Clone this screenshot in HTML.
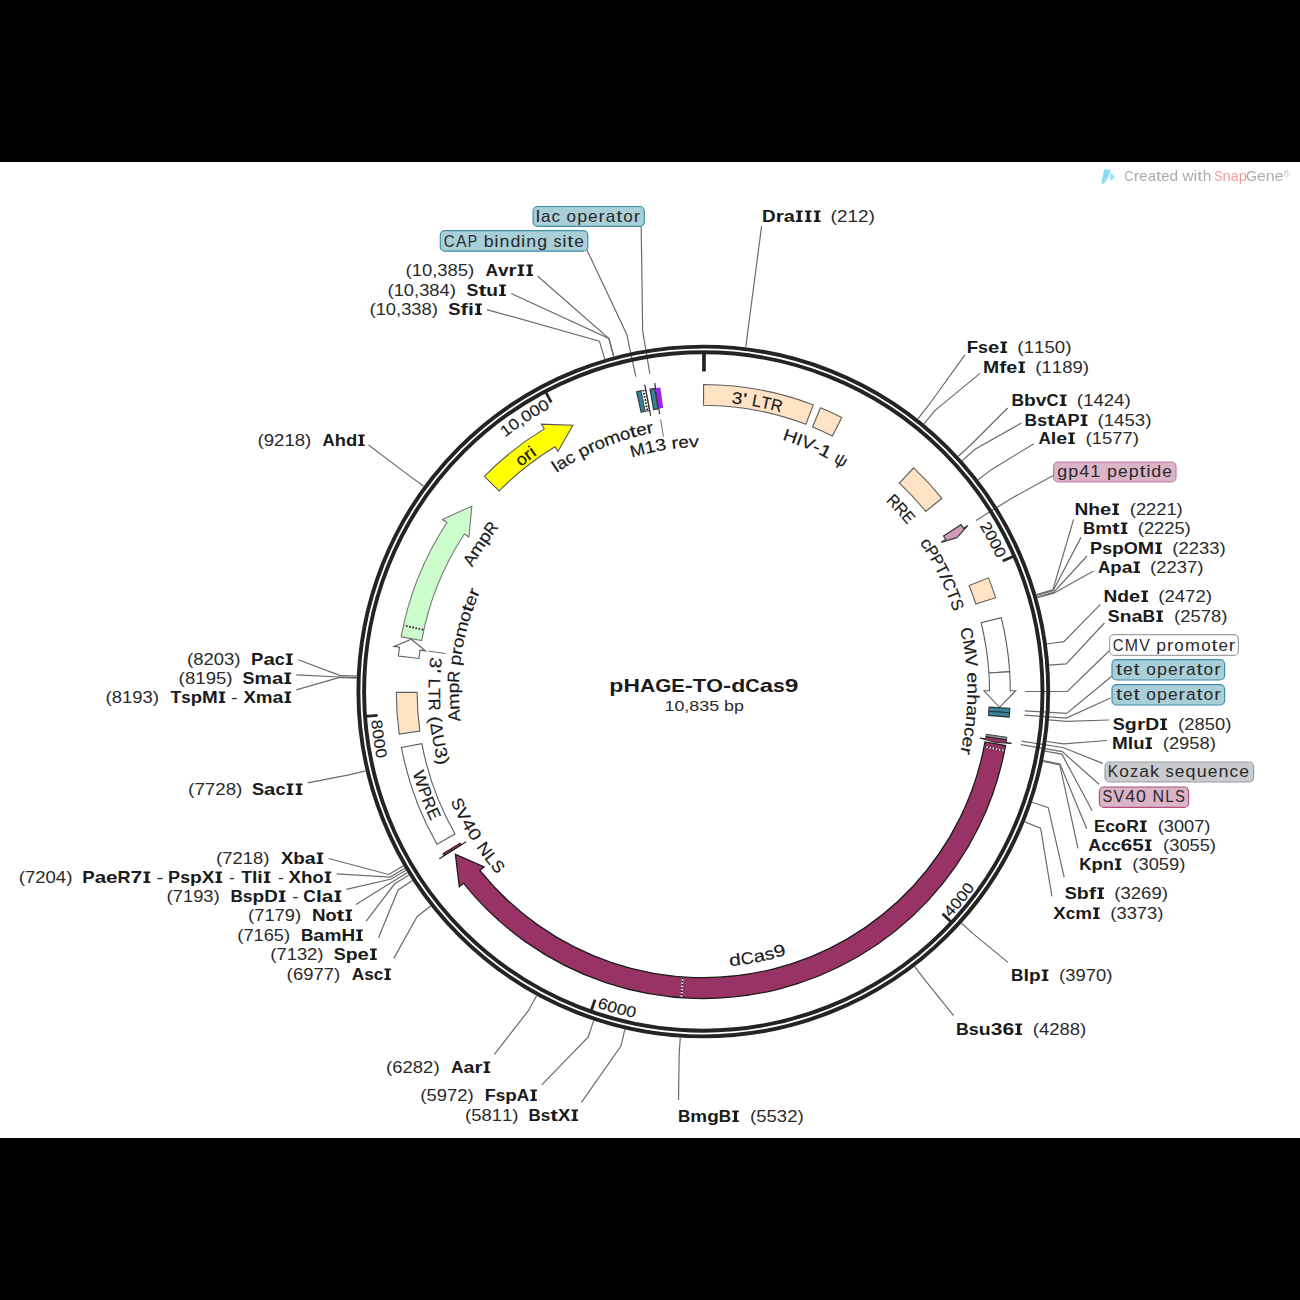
<!DOCTYPE html><html><head><meta charset="utf-8"><style>html,body{margin:0;padding:0;background:#fff;}svg{display:block;}</style></head><body><svg width="1300" height="1300" viewBox="0 0 1300 1300" style="font-family:'Liberation Sans',sans-serif;font-kerning:none">
<rect x="0" y="0" width="1300" height="1300" fill="#fff"/>
<rect x="0" y="0" width="1300" height="162" fill="#000"/>
<rect x="0" y="1138" width="1300" height="162" fill="#000"/>
<polyline points="745.84,347.22 747.94,330.25 761.6,226.2" fill="none" stroke="#6b6b6b" stroke-width="1.2"/>
<g font-size="16" font-weight="bold" fill="#1a1a1a"><text transform="translate(768.81,222.1) scale(1.180,1)" x="-5.78">D</text><text transform="translate(779.67,222.1) scale(1.301,1)" x="-3.11">r</text><text transform="translate(789.26,222.1) scale(1.245,1)" x="-4.45">a</text><path d="M795.95,210.48 h6.65 v1.68 h-1.77 v8.16 h1.77 v1.68 h-6.65 v-1.68 h1.77 v-8.16 h-1.77 Z"/><path d="M804.9,210.48 h6.65 v1.68 h-1.77 v8.16 h1.77 v1.68 h-6.65 v-1.68 h1.77 v-8.16 h-1.77 Z"/><path d="M813.85,210.48 h6.65 v1.68 h-1.77 v8.16 h1.77 v1.68 h-6.65 v-1.68 h1.77 v-8.16 h-1.77 Z"/></g>
<g font-size="16" fill="#2a2a2a"><text transform="translate(833.8,222.1) scale(1.207,1)" x="-2.66">(</text><text transform="translate(842.26,222.1) scale(1.179,1)" x="-4.45">2</text><text transform="translate(852.75,222.1) scale(1.179,1)" x="-4.45">1</text><text transform="translate(863.24,222.1) scale(1.179,1)" x="-4.45">2</text><text transform="translate(871.7,222.1) scale(1.207,1)" x="-2.66">)</text></g>
<polyline points="917.87,418.92 928.45,405.49 964.9,354.9" fill="none" stroke="#6b6b6b" stroke-width="1.2"/>
<g font-size="16" font-weight="bold" fill="#1a1a1a"><text transform="translate(972.44,353.4) scale(1.159,1)" x="-4.89">F</text><text transform="translate(983.04,353.4) scale(1.109,1)" x="-4.45">s</text><text transform="translate(993.6,353.4) scale(1.264,1)" x="-4.45">e</text><path d="M1000.38,341.48 h6.72 v1.68 h-1.78 v8.16 h1.78 v1.68 h-6.72 v-1.68 h1.78 v-8.16 h-1.78 Z"/></g>
<g font-size="16" fill="#2a2a2a"><text transform="translate(1020.48,353.4) scale(1.196,1)" x="-2.66">(</text><text transform="translate(1028.86,353.4) scale(1.168,1)" x="-4.45">1</text><text transform="translate(1039.25,353.4) scale(1.168,1)" x="-4.45">1</text><text transform="translate(1049.65,353.4) scale(1.168,1)" x="-4.45">5</text><text transform="translate(1060.04,353.4) scale(1.168,1)" x="-4.45">0</text><text transform="translate(1068.42,353.4) scale(1.196,1)" x="-2.66">)</text></g>
<polyline points="923.98,423.84 934.86,410.65 980,373.4" fill="none" stroke="#6b6b6b" stroke-width="1.2"/>
<g font-size="16" font-weight="bold" fill="#1a1a1a"><text transform="translate(991.18,372.8) scale(1.211,1)" x="-6.66">M</text><text transform="translate(1002.77,372.8) scale(1.324,1)" x="-2.66">f</text><text transform="translate(1011.8,372.8) scale(1.236,1)" x="-4.45">e</text><path d="M1018.43,361.48 h6.57 v1.68 h-1.74 v8.16 h1.74 v1.68 h-6.57 v-1.68 h1.74 v-8.16 h-1.74 Z"/></g>
<g font-size="16" fill="#2a2a2a"><text transform="translate(1038.37,372.8) scale(1.187,1)" x="-2.66">(</text><text transform="translate(1046.68,372.8) scale(1.159,1)" x="-4.45">1</text><text transform="translate(1056.99,372.8) scale(1.159,1)" x="-4.45">1</text><text transform="translate(1067.31,372.8) scale(1.159,1)" x="-4.45">8</text><text transform="translate(1077.62,372.8) scale(1.159,1)" x="-4.45">9</text><text transform="translate(1085.93,372.8) scale(1.187,1)" x="-2.66">)</text></g>
<polyline points="958.3,456.31 970.87,444.71 1007.7,408" fill="none" stroke="#6b6b6b" stroke-width="1.2"/>
<g font-size="16" font-weight="bold" fill="#1a1a1a"><text transform="translate(1017.77,406.1) scale(1.087,1)" x="-5.78">B</text><text transform="translate(1029.94,406.1) scale(1.207,1)" x="-4.89">b</text><text transform="translate(1041.21,406.1) scale(1.207,1)" x="-4.45">v</text><text transform="translate(1052.63,406.1) scale(1.047,1)" x="-5.78">C</text><path d="M1059.83,394.48 h6.67 v1.68 h-1.77 v8.16 h1.77 v1.68 h-6.67 v-1.68 h1.77 v-8.16 h-1.77 Z"/></g>
<g font-size="16" fill="#2a2a2a"><text transform="translate(1079.97,406.1) scale(1.187,1)" x="-2.66">(</text><text transform="translate(1088.28,406.1) scale(1.159,1)" x="-4.45">1</text><text transform="translate(1098.59,406.1) scale(1.159,1)" x="-4.45">4</text><text transform="translate(1108.91,406.1) scale(1.159,1)" x="-4.45">2</text><text transform="translate(1119.22,406.1) scale(1.159,1)" x="-4.45">4</text><text transform="translate(1127.53,406.1) scale(1.187,1)" x="-2.66">)</text></g>
<polyline points="962.22,460.63 974.98,449.25 1021.5,423" fill="none" stroke="#6b6b6b" stroke-width="1.2"/>
<g font-size="16" font-weight="bold" fill="#1a1a1a"><text transform="translate(1030.86,426) scale(1.085,1)" x="-5.78">B</text><text transform="translate(1042.03,426) scale(1.101,1)" x="-4.45">s</text><text transform="translate(1050.86,426) scale(1.476,1)" x="-2.66">t</text><text transform="translate(1061.16,426) scale(1.102,1)" x="-5.78">A</text><text transform="translate(1073.55,426) scale(1.130,1)" x="-5.34">P</text><path d="M1080.74,414.48 h6.66 v1.68 h-1.77 v8.16 h1.77 v1.68 h-6.66 v-1.68 h1.77 v-8.16 h-1.77 Z"/></g>
<g font-size="16" fill="#2a2a2a"><text transform="translate(1100.58,426) scale(1.191,1)" x="-2.66">(</text><text transform="translate(1108.92,426) scale(1.163,1)" x="-4.45">1</text><text transform="translate(1119.27,426) scale(1.163,1)" x="-4.45">4</text><text transform="translate(1129.63,426) scale(1.163,1)" x="-4.45">5</text><text transform="translate(1139.98,426) scale(1.163,1)" x="-4.45">3</text><text transform="translate(1148.32,426) scale(1.191,1)" x="-2.66">)</text></g>
<polyline points="978.13,479.83 991.68,469.39 1033.8,443.8" fill="none" stroke="#6b6b6b" stroke-width="1.2"/>
<g font-size="16" font-weight="bold" fill="#1a1a1a"><text transform="translate(1044.62,443.9) scale(1.073,1)" x="-5.78">A</text><text transform="translate(1053.57,443.9) scale(1.236,1)" x="-2.22">l</text><text transform="translate(1061.75,443.9) scale(1.221,1)" x="-4.45">e</text><path d="M1068.31,432.48 h6.49 v1.68 h-1.72 v8.16 h1.72 v1.68 h-6.49 v-1.68 h1.72 v-8.16 h-1.72 Z"/></g>
<g font-size="16" fill="#2a2a2a"><text transform="translate(1088.56,443.9) scale(1.180,1)" x="-2.66">(</text><text transform="translate(1096.83,443.9) scale(1.152,1)" x="-4.45">1</text><text transform="translate(1107.08,443.9) scale(1.152,1)" x="-4.45">5</text><text transform="translate(1117.32,443.9) scale(1.152,1)" x="-4.45">7</text><text transform="translate(1127.57,443.9) scale(1.152,1)" x="-4.45">7</text><text transform="translate(1135.84,443.9) scale(1.180,1)" x="-2.66">)</text></g>
<polyline points="1036.42,594.68 1052.84,589.91 1073.6,519.4" fill="none" stroke="#6b6b6b" stroke-width="1.2"/>
<g font-size="16" font-weight="bold" fill="#1a1a1a"><text transform="translate(1081.38,515.3) scale(1.193,1)" x="-5.78">N</text><text transform="translate(1094.14,515.3) scale(1.200,1)" x="-4.89">h</text><text transform="translate(1105.59,515.3) scale(1.256,1)" x="-4.45">e</text><path d="M1112.33,503.48 h6.67 v1.68 h-1.77 v8.16 h1.77 v1.68 h-6.67 v-1.68 h1.77 v-8.16 h-1.77 Z"/></g>
<g font-size="16" fill="#2a2a2a"><text transform="translate(1132.74,515.3) scale(1.170,1)" x="-2.66">(</text><text transform="translate(1140.95,515.3) scale(1.143,1)" x="-4.45">2</text><text transform="translate(1151.12,515.3) scale(1.143,1)" x="-4.45">2</text><text transform="translate(1161.28,515.3) scale(1.143,1)" x="-4.45">2</text><text transform="translate(1171.45,515.3) scale(1.143,1)" x="-4.45">1</text><text transform="translate(1179.66,515.3) scale(1.170,1)" x="-2.66">)</text></g>
<polyline points="1036.64,595.46 1053.07,590.72 1081,537.4" fill="none" stroke="#6b6b6b" stroke-width="1.2"/>
<g font-size="16" font-weight="bold" fill="#1a1a1a"><text transform="translate(1089.07,533.9) scale(1.064,1)" x="-5.78">B</text><text transform="translate(1103.62,533.9) scale(1.182,1)" x="-7.11">m</text><text transform="translate(1115.88,533.9) scale(1.447,1)" x="-2.66">t</text><path d="M1120.87,522.48 h6.53 v1.68 h-1.73 v8.16 h1.73 v1.68 h-6.53 v-1.68 h1.73 v-8.16 h-1.73 Z"/></g>
<g font-size="16" fill="#2a2a2a"><text transform="translate(1140.74,533.9) scale(1.170,1)" x="-2.66">(</text><text transform="translate(1148.95,533.9) scale(1.143,1)" x="-4.45">2</text><text transform="translate(1159.12,533.9) scale(1.143,1)" x="-4.45">2</text><text transform="translate(1169.28,533.9) scale(1.143,1)" x="-4.45">2</text><text transform="translate(1179.45,533.9) scale(1.143,1)" x="-4.45">5</text><text transform="translate(1187.66,533.9) scale(1.170,1)" x="-2.66">)</text></g>
<polyline points="1037.08,597 1053.54,592.35 1087,556" fill="none" stroke="#6b6b6b" stroke-width="1.2"/>
<g font-size="16" font-weight="bold" fill="#1a1a1a"><text transform="translate(1096.13,553.9) scale(1.132,1)" x="-5.34">P</text><text transform="translate(1107.07,553.9) scale(1.102,1)" x="-4.45">s</text><text transform="translate(1117.87,553.9) scale(1.207,1)" x="-4.89">p</text><text transform="translate(1130.77,553.9) scale(1.126,1)" x="-6.22">O</text><text transform="translate(1145.97,553.9) scale(1.230,1)" x="-6.66">M</text><path d="M1155.33,542.48 h6.67 v1.68 h-1.77 v8.16 h1.77 v1.68 h-6.67 v-1.68 h1.77 v-8.16 h-1.77 Z"/></g>
<g font-size="16" fill="#2a2a2a"><text transform="translate(1175.36,553.9) scale(1.180,1)" x="-2.66">(</text><text transform="translate(1183.63,553.9) scale(1.152,1)" x="-4.45">2</text><text transform="translate(1193.88,553.9) scale(1.152,1)" x="-4.45">2</text><text transform="translate(1204.12,553.9) scale(1.152,1)" x="-4.45">3</text><text transform="translate(1214.37,553.9) scale(1.152,1)" x="-4.45">3</text><text transform="translate(1222.64,553.9) scale(1.180,1)" x="-2.66">)</text></g>
<polyline points="1037.3,597.78 1053.76,593.16 1093.6,571" fill="none" stroke="#6b6b6b" stroke-width="1.2"/>
<g font-size="16" font-weight="bold" fill="#1a1a1a"><text transform="translate(1104.09,572.9) scale(1.068,1)" x="-5.78">A</text><text transform="translate(1115.97,572.9) scale(1.168,1)" x="-4.89">p</text><text transform="translate(1127.05,572.9) scale(1.209,1)" x="-4.45">a</text><path d="M1133.54,561.48 h6.46 v1.68 h-1.71 v8.16 h1.71 v1.68 h-6.46 v-1.68 h1.71 v-8.16 h-1.71 Z"/></g>
<g font-size="16" fill="#2a2a2a"><text transform="translate(1153.15,572.9) scale(1.175,1)" x="-2.66">(</text><text transform="translate(1161.39,572.9) scale(1.147,1)" x="-4.45">2</text><text transform="translate(1171.6,572.9) scale(1.147,1)" x="-4.45">2</text><text transform="translate(1181.8,572.9) scale(1.147,1)" x="-4.45">3</text><text transform="translate(1192.01,572.9) scale(1.147,1)" x="-4.45">7</text><text transform="translate(1200.25,572.9) scale(1.175,1)" x="-2.66">)</text></g>
<polyline points="1046.94,644.02 1063.87,641.68 1100.4,604.4" fill="none" stroke="#6b6b6b" stroke-width="1.2"/>
<g font-size="16" font-weight="bold" fill="#1a1a1a"><text transform="translate(1110.37,601.9) scale(1.191,1)" x="-5.78">N</text><text transform="translate(1123.14,601.9) scale(1.205,1)" x="-4.89">d</text><text transform="translate(1134.61,601.9) scale(1.254,1)" x="-4.45">e</text><path d="M1141.34,590.48 h6.66 v1.68 h-1.77 v8.16 h1.77 v1.68 h-6.66 v-1.68 h1.77 v-8.16 h-1.77 Z"/></g>
<g font-size="16" fill="#2a2a2a"><text transform="translate(1161.37,601.9) scale(1.184,1)" x="-2.66">(</text><text transform="translate(1169.66,601.9) scale(1.156,1)" x="-4.45">2</text><text transform="translate(1179.95,601.9) scale(1.156,1)" x="-4.45">4</text><text transform="translate(1190.25,601.9) scale(1.156,1)" x="-4.45">7</text><text transform="translate(1200.54,601.9) scale(1.156,1)" x="-4.45">2</text><text transform="translate(1208.83,601.9) scale(1.184,1)" x="-2.66">)</text></g>
<polyline points="1049.2,665.22 1066.25,663.93 1104.4,623" fill="none" stroke="#6b6b6b" stroke-width="1.2"/>
<g font-size="16" font-weight="bold" fill="#1a1a1a"><text transform="translate(1113.76,621.5) scale(1.114,1)" x="-5.34">S</text><text transform="translate(1125.57,621.5) scale(1.202,1)" x="-4.89">n</text><text transform="translate(1137.02,621.5) scale(1.251,1)" x="-4.45">a</text><text transform="translate(1148.87,621.5) scale(1.089,1)" x="-5.78">B</text><path d="M1156.32,610.48 h6.68 v1.68 h-1.77 v8.16 h1.77 v1.68 h-6.68 v-1.68 h1.77 v-8.16 h-1.77 Z"/></g>
<g font-size="16" fill="#2a2a2a"><text transform="translate(1177.15,621.5) scale(1.175,1)" x="-2.66">(</text><text transform="translate(1185.39,621.5) scale(1.147,1)" x="-4.45">2</text><text transform="translate(1195.6,621.5) scale(1.147,1)" x="-4.45">5</text><text transform="translate(1205.8,621.5) scale(1.147,1)" x="-4.45">7</text><text transform="translate(1216.01,621.5) scale(1.147,1)" x="-4.45">8</text><text transform="translate(1224.25,621.5) scale(1.175,1)" x="-2.66">)</text></g>
<polyline points="1049.04,719.88 1066.08,721.28 1109,720" fill="none" stroke="#6b6b6b" stroke-width="1.2"/>
<g font-size="16" font-weight="bold" fill="#1a1a1a"><text transform="translate(1118.83,729.5) scale(1.131,1)" x="-5.34">S</text><text transform="translate(1130.87,729.5) scale(1.227,1)" x="-4.89">g</text><text transform="translate(1141,729.5) scale(1.327,1)" x="-3.11">r</text><text transform="translate(1152.08,729.5) scale(1.204,1)" x="-5.78">D</text><path d="M1160.21,718.48 h6.79 v1.68 h-1.8 v8.16 h1.8 v1.68 h-6.79 v-1.68 h1.8 v-8.16 h-1.8 Z"/></g>
<g font-size="16" fill="#2a2a2a"><text transform="translate(1181.15,729.5) scale(1.175,1)" x="-2.66">(</text><text transform="translate(1189.39,729.5) scale(1.147,1)" x="-4.45">2</text><text transform="translate(1199.6,729.5) scale(1.147,1)" x="-4.45">8</text><text transform="translate(1209.8,729.5) scale(1.147,1)" x="-4.45">5</text><text transform="translate(1220.01,729.5) scale(1.147,1)" x="-4.45">0</text><text transform="translate(1228.25,729.5) scale(1.175,1)" x="-2.66">)</text></g>
<polyline points="1046.58,741.47 1063.5,743.93 1107,740.5" fill="none" stroke="#6b6b6b" stroke-width="1.2"/>
<g font-size="16" font-weight="bold" fill="#1a1a1a"><text transform="translate(1119.84,748.5) scale(1.185,1)" x="-6.66">M</text><text transform="translate(1130.45,748.5) scale(1.223,1)" x="-2.22">l</text><text transform="translate(1138.82,748.5) scale(1.156,1)" x="-4.89">u</text><path d="M1145.57,737.48 h6.43 v1.68 h-1.71 v8.16 h1.71 v1.68 h-6.43 v-1.68 h1.71 v-8.16 h-1.71 Z"/></g>
<g font-size="16" fill="#2a2a2a"><text transform="translate(1165.75,748.5) scale(1.175,1)" x="-2.66">(</text><text transform="translate(1173.99,748.5) scale(1.147,1)" x="-4.45">2</text><text transform="translate(1184.2,748.5) scale(1.147,1)" x="-4.45">9</text><text transform="translate(1194.4,748.5) scale(1.147,1)" x="-4.45">5</text><text transform="translate(1204.61,748.5) scale(1.147,1)" x="-4.45">8</text><text transform="translate(1212.85,748.5) scale(1.175,1)" x="-2.66">)</text></g>
<polyline points="1045.02,751.2 1061.87,754.14 1092.2,810.8" fill="none" stroke="#6b6b6b" stroke-width="1.2"/>
<g font-size="16" font-weight="bold" fill="#1a1a1a"><text transform="translate(1099.5,831.5) scale(1.052,1)" x="-5.34">E</text><text transform="translate(1109.99,831.5) scale(1.095,1)" x="-4.45">c</text><text transform="translate(1120.5,831.5) scale(1.155,1)" x="-4.89">o</text><text transform="translate(1132.47,831.5) scale(1.095,1)" x="-5.78">R</text><path d="M1139.95,820.48 h6.65 v1.68 h-1.77 v8.16 h1.77 v1.68 h-6.65 v-1.68 h1.77 v-8.16 h-1.77 Z"/></g>
<g font-size="16" fill="#2a2a2a"><text transform="translate(1160.74,831.5) scale(1.166,1)" x="-2.66">(</text><text transform="translate(1168.91,831.5) scale(1.138,1)" x="-4.45">3</text><text transform="translate(1179.04,831.5) scale(1.138,1)" x="-4.45">0</text><text transform="translate(1189.16,831.5) scale(1.138,1)" x="-4.45">0</text><text transform="translate(1199.29,831.5) scale(1.138,1)" x="-4.45">7</text><text transform="translate(1207.46,831.5) scale(1.166,1)" x="-2.66">)</text></g>
<polyline points="1043.23,760.69 1059.99,764.1 1086.7,828.7" fill="none" stroke="#6b6b6b" stroke-width="1.2"/>
<g font-size="16" font-weight="bold" fill="#1a1a1a"><text transform="translate(1094.72,851.3) scale(1.108,1)" x="-5.78">A</text><text transform="translate(1106.02,851.3) scale(1.102,1)" x="-4.45">c</text><text transform="translate(1115.83,851.3) scale(1.102,1)" x="-4.45">c</text><text transform="translate(1126.48,851.3) scale(1.293,1)" x="-4.45">6</text><text transform="translate(1137.99,851.3) scale(1.293,1)" x="-4.45">5</text><path d="M1144.9,839.48 h6.7 v1.68 h-1.78 v8.16 h1.78 v1.68 h-6.7 v-1.68 h1.78 v-8.16 h-1.78 Z"/></g>
<g font-size="16" fill="#2a2a2a"><text transform="translate(1166.14,851.3) scale(1.166,1)" x="-2.66">(</text><text transform="translate(1174.31,851.3) scale(1.138,1)" x="-4.45">3</text><text transform="translate(1184.44,851.3) scale(1.138,1)" x="-4.45">0</text><text transform="translate(1194.56,851.3) scale(1.138,1)" x="-4.45">5</text><text transform="translate(1204.69,851.3) scale(1.138,1)" x="-4.45">5</text><text transform="translate(1212.86,851.3) scale(1.166,1)" x="-2.66">)</text></g>
<polyline points="1043.07,761.48 1059.82,764.92 1078,848.4" fill="none" stroke="#6b6b6b" stroke-width="1.2"/>
<g font-size="16" font-weight="bold" fill="#1a1a1a"><text transform="translate(1085.26,870.3) scale(1.058,1)" x="-5.78">K</text><text transform="translate(1097.03,870.3) scale(1.156,1)" x="-4.89">p</text><text transform="translate(1108.29,870.3) scale(1.149,1)" x="-4.89">n</text><path d="M1115.01,858.48 h6.39 v1.68 h-1.7 v8.16 h1.7 v1.68 h-6.39 v-1.68 h1.7 v-8.16 h-1.7 Z"/></g>
<g font-size="16" fill="#2a2a2a"><text transform="translate(1135.34,870.3) scale(1.170,1)" x="-2.66">(</text><text transform="translate(1143.55,870.3) scale(1.143,1)" x="-4.45">3</text><text transform="translate(1153.72,870.3) scale(1.143,1)" x="-4.45">0</text><text transform="translate(1163.88,870.3) scale(1.143,1)" x="-4.45">5</text><text transform="translate(1174.05,870.3) scale(1.143,1)" x="-4.45">9</text><text transform="translate(1182.26,870.3) scale(1.170,1)" x="-2.66">)</text></g>
<polyline points="1032.05,802.23 1048.26,807.69 1064.2,877.3" fill="none" stroke="#6b6b6b" stroke-width="1.2"/>
<g font-size="16" font-weight="bold" fill="#1a1a1a"><text transform="translate(1070.82,898.9) scale(1.128,1)" x="-5.34">S</text><text transform="translate(1082.81,898.9) scale(1.224,1)" x="-4.89">b</text><text transform="translate(1092.43,898.9) scale(1.364,1)" x="-2.66">f</text><path d="M1097.23,887.48 h6.77 v1.68 h-1.8 v8.16 h1.8 v1.68 h-6.77 v-1.68 h1.8 v-8.16 h-1.8 Z"/></g>
<g font-size="16" fill="#2a2a2a"><text transform="translate(1117.37,898.9) scale(1.184,1)" x="-2.66">(</text><text transform="translate(1125.66,898.9) scale(1.156,1)" x="-4.45">3</text><text transform="translate(1135.95,898.9) scale(1.156,1)" x="-4.45">2</text><text transform="translate(1146.25,898.9) scale(1.156,1)" x="-4.45">6</text><text transform="translate(1156.54,898.9) scale(1.156,1)" x="-4.45">9</text><text transform="translate(1164.83,898.9) scale(1.184,1)" x="-2.66">)</text></g>
<polyline points="1024.78,821.84 1040.63,828.27 1051.9,896.4" fill="none" stroke="#6b6b6b" stroke-width="1.2"/>
<g font-size="16" font-weight="bold" fill="#1a1a1a"><text transform="translate(1059.49,918.5) scale(1.161,1)" x="-5.34">X</text><text transform="translate(1070.45,918.5) scale(1.071,1)" x="-4.45">c</text><text transform="translate(1083.59,918.5) scale(1.177,1)" x="-7.11">m</text><path d="M1093.09,907.48 h6.51 v1.68 h-1.73 v8.16 h1.73 v1.68 h-6.51 v-1.68 h1.73 v-8.16 h-1.73 Z"/></g>
<g font-size="16" fill="#2a2a2a"><text transform="translate(1113.34,918.5) scale(1.170,1)" x="-2.66">(</text><text transform="translate(1121.55,918.5) scale(1.143,1)" x="-4.45">3</text><text transform="translate(1131.72,918.5) scale(1.143,1)" x="-4.45">3</text><text transform="translate(1141.88,918.5) scale(1.143,1)" x="-4.45">7</text><text transform="translate(1152.05,918.5) scale(1.143,1)" x="-4.45">3</text><text transform="translate(1160.26,918.5) scale(1.170,1)" x="-2.66">)</text></g>
<polyline points="961.48,923.2 974.2,934.62 1008,962.4" fill="none" stroke="#6b6b6b" stroke-width="1.2"/>
<g font-size="16" font-weight="bold" fill="#1a1a1a"><text transform="translate(1017.3,980.9) scale(1.071,1)" x="-5.78">B</text><text transform="translate(1026.27,980.9) scale(1.252,1)" x="-2.22">l</text><text transform="translate(1034.87,980.9) scale(1.190,1)" x="-4.89">p</text><path d="M1041.82,969.48 h6.58 v1.68 h-1.75 v8.16 h1.75 v1.68 h-6.58 v-1.68 h1.75 v-8.16 h-1.75 Z"/></g>
<g font-size="16" fill="#2a2a2a"><text transform="translate(1062.15,980.9) scale(1.175,1)" x="-2.66">(</text><text transform="translate(1070.39,980.9) scale(1.147,1)" x="-4.45">3</text><text transform="translate(1080.6,980.9) scale(1.147,1)" x="-4.45">9</text><text transform="translate(1090.8,980.9) scale(1.147,1)" x="-4.45">7</text><text transform="translate(1101.01,980.9) scale(1.147,1)" x="-4.45">0</text><text transform="translate(1109.25,980.9) scale(1.175,1)" x="-2.66">)</text></g>
<polyline points="914.62,966.61 925.03,980.17 953.6,1015.6" fill="none" stroke="#6b6b6b" stroke-width="1.2"/>
<g font-size="16" font-weight="bold" fill="#1a1a1a"><text transform="translate(962.45,1034.9) scale(1.105,1)" x="-5.78">B</text><text transform="translate(973.82,1034.9) scale(1.121,1)" x="-4.45">s</text><text transform="translate(984.77,1034.9) scale(1.220,1)" x="-4.89">u</text><text transform="translate(996.56,1034.9) scale(1.310,1)" x="-4.45">3</text><text transform="translate(1008.21,1034.9) scale(1.310,1)" x="-4.45">6</text><path d="M1015.22,1023.48 h6.78 v1.68 h-1.8 v8.16 h1.8 v1.68 h-6.78 v-1.68 h1.8 v-8.16 h-1.8 Z"/></g>
<g font-size="16" fill="#2a2a2a"><text transform="translate(1035.77,1034.9) scale(1.184,1)" x="-2.66">(</text><text transform="translate(1044.06,1034.9) scale(1.156,1)" x="-4.45">4</text><text transform="translate(1054.35,1034.9) scale(1.156,1)" x="-4.45">2</text><text transform="translate(1064.65,1034.9) scale(1.156,1)" x="-4.45">8</text><text transform="translate(1074.94,1034.9) scale(1.156,1)" x="-4.45">8</text><text transform="translate(1083.23,1034.9) scale(1.184,1)" x="-2.66">)</text></g>
<polyline points="680.28,1037.64 679.15,1054.7 678.5,1100" fill="none" stroke="#6b6b6b" stroke-width="1.2"/>
<g font-size="16" font-weight="bold" fill="#1a1a1a"><text transform="translate(684.18,1122.2) scale(1.067,1)" x="-5.78">B</text><text transform="translate(698.77,1122.2) scale(1.185,1)" x="-7.11">m</text><text transform="translate(712.99,1122.2) scale(1.185,1)" x="-4.89">g</text><text transform="translate(724.95,1122.2) scale(1.067,1)" x="-5.78">B</text><path d="M732.25,1110.48 h6.55 v1.68 h-1.74 v8.16 h1.74 v1.68 h-6.55 v-1.68 h1.74 v-8.16 h-1.74 Z"/></g>
<g font-size="16" fill="#2a2a2a"><text transform="translate(753.07,1122.2) scale(1.187,1)" x="-2.66">(</text><text transform="translate(761.38,1122.2) scale(1.159,1)" x="-4.45">5</text><text transform="translate(771.69,1122.2) scale(1.159,1)" x="-4.45">5</text><text transform="translate(782.01,1122.2) scale(1.159,1)" x="-4.45">3</text><text transform="translate(792.32,1122.2) scale(1.159,1)" x="-4.45">2</text><text transform="translate(800.63,1122.2) scale(1.187,1)" x="-2.66">)</text></g>
<polyline points="613.8,356.34 609.03,338.47 537.7,276.2" fill="none" stroke="#6b6b6b" stroke-width="1.2"/>
<g font-size="16" fill="#2a2a2a"><text transform="translate(408.56,275.9) scale(1.180,1)" x="-2.66">(</text><text transform="translate(416.83,275.9) scale(1.152,1)" x="-4.45">1</text><text transform="translate(427.08,275.9) scale(1.152,1)" x="-4.45">0</text><text transform="translate(434.77,275.9) scale(1.152,1)" x="-2.22">,</text><text transform="translate(442.46,275.9) scale(1.152,1)" x="-4.45">3</text><text transform="translate(452.72,275.9) scale(1.152,1)" x="-4.45">8</text><text transform="translate(462.97,275.9) scale(1.152,1)" x="-4.45">5</text><text transform="translate(471.24,275.9) scale(1.180,1)" x="-2.66">)</text></g>
<g font-size="16" font-weight="bold" fill="#1a1a1a"><text transform="translate(491.77,275.9) scale(1.082,1)" x="-5.78">A</text><text transform="translate(503.29,275.9) scale(1.183,1)" x="-4.45">v</text><text transform="translate(512.54,275.9) scale(1.280,1)" x="-3.11">r</text><path d="M517.65,264.48 h6.54 v1.68 h-1.74 v8.16 h1.74 v1.68 h-6.54 v-1.68 h1.74 v-8.16 h-1.74 Z"/><path d="M526.46,264.48 h6.54 v1.68 h-1.74 v8.16 h1.74 v1.68 h-6.54 v-1.68 h1.74 v-8.16 h-1.74 Z"/></g>
<polyline points="613.6,356.4 608.82,338.53 511.2,293.5" fill="none" stroke="#6b6b6b" stroke-width="1.2"/>
<g font-size="16" fill="#2a2a2a"><text transform="translate(390.55,295.5) scale(1.173,1)" x="-2.66">(</text><text transform="translate(398.77,295.5) scale(1.145,1)" x="-4.45">1</text><text transform="translate(408.96,295.5) scale(1.145,1)" x="-4.45">0</text><text transform="translate(416.6,295.5) scale(1.146,1)" x="-2.22">,</text><text transform="translate(424.25,295.5) scale(1.145,1)" x="-4.45">3</text><text transform="translate(434.44,295.5) scale(1.145,1)" x="-4.45">8</text><text transform="translate(444.63,295.5) scale(1.145,1)" x="-4.45">4</text><text transform="translate(452.85,295.5) scale(1.173,1)" x="-2.66">)</text></g>
<g font-size="16" font-weight="bold" fill="#1a1a1a"><text transform="translate(472.55,295.5) scale(1.111,1)" x="-5.34">S</text><text transform="translate(482.42,295.5) scale(1.478,1)" x="-2.66">t</text><text transform="translate(492.21,295.5) scale(1.200,1)" x="-4.89">u</text><path d="M499.23,284.48 h6.67 v1.68 h-1.77 v8.16 h1.77 v1.68 h-6.67 v-1.68 h1.77 v-8.16 h-1.77 Z"/></g>
<polyline points="604.7,358.91 599.44,341.17 487,309.6" fill="none" stroke="#6b6b6b" stroke-width="1.2"/>
<g font-size="16" fill="#2a2a2a"><text transform="translate(372.55,314.7) scale(1.173,1)" x="-2.66">(</text><text transform="translate(380.77,314.7) scale(1.145,1)" x="-4.45">1</text><text transform="translate(390.96,314.7) scale(1.145,1)" x="-4.45">0</text><text transform="translate(398.6,314.7) scale(1.146,1)" x="-2.22">,</text><text transform="translate(406.25,314.7) scale(1.145,1)" x="-4.45">3</text><text transform="translate(416.44,314.7) scale(1.145,1)" x="-4.45">3</text><text transform="translate(426.63,314.7) scale(1.145,1)" x="-4.45">8</text><text transform="translate(434.85,314.7) scale(1.173,1)" x="-2.66">)</text></g>
<g font-size="16" font-weight="bold" fill="#1a1a1a"><text transform="translate(454.41,314.7) scale(1.150,1)" x="-5.34">S</text><text transform="translate(464.26,314.7) scale(1.391,1)" x="-2.66">f</text><text transform="translate(470.88,314.7) scale(1.314,1)" x="-2.22">i</text><path d="M475,303.48 h6.9 v1.68 h-1.83 v8.16 h1.83 v1.68 h-6.9 v-1.68 h1.83 v-8.16 h-1.83 Z"/></g>
<polyline points="423.63,486.26 409.84,476.14 368.5,444.9" fill="none" stroke="#6b6b6b" stroke-width="1.2"/>
<g font-size="16" fill="#2a2a2a"><text transform="translate(260.57,445.8) scale(1.189,1)" x="-2.66">(</text><text transform="translate(268.9,445.8) scale(1.161,1)" x="-4.45">9</text><text transform="translate(279.23,445.8) scale(1.161,1)" x="-4.45">2</text><text transform="translate(289.57,445.8) scale(1.161,1)" x="-4.45">1</text><text transform="translate(299.9,445.8) scale(1.161,1)" x="-4.45">8</text><text transform="translate(308.23,445.8) scale(1.189,1)" x="-2.66">)</text></g>
<g font-size="16" font-weight="bold" fill="#1a1a1a"><text transform="translate(328.61,445.8) scale(1.053,1)" x="-5.78">A</text><text transform="translate(340.28,445.8) scale(1.145,1)" x="-4.89">h</text><text transform="translate(351.51,445.8) scale(1.151,1)" x="-4.89">d</text><path d="M358.23,434.48 h6.37 v1.68 h-1.69 v8.16 h1.69 v1.68 h-6.37 v-1.68 h1.69 v-8.16 h-1.69 Z"/></g>
<polyline points="356.74,676.07 339.66,675.3 298.3,659.7" fill="none" stroke="#6b6b6b" stroke-width="1.2"/>
<g font-size="16" fill="#2a2a2a"><text transform="translate(190.06,664.8) scale(1.180,1)" x="-2.66">(</text><text transform="translate(198.33,664.8) scale(1.152,1)" x="-4.45">8</text><text transform="translate(208.58,664.8) scale(1.152,1)" x="-4.45">2</text><text transform="translate(218.82,664.8) scale(1.152,1)" x="-4.45">0</text><text transform="translate(229.07,664.8) scale(1.152,1)" x="-4.45">3</text><text transform="translate(237.34,664.8) scale(1.180,1)" x="-2.66">)</text></g>
<g font-size="16" font-weight="bold" fill="#1a1a1a"><text transform="translate(257.22,664.8) scale(1.155,1)" x="-5.34">P</text><text transform="translate(269.06,664.8) scale(1.276,1)" x="-4.45">a</text><text transform="translate(279.72,664.8) scale(1.121,1)" x="-4.45">c</text><path d="M285.89,653.48 h6.81 v1.68 h-1.81 v8.16 h1.81 v1.68 h-6.81 v-1.68 h1.81 v-8.16 h-1.81 Z"/></g>
<polyline points="356.68,677.67 339.59,676.99 296.3,674.9" fill="none" stroke="#6b6b6b" stroke-width="1.2"/>
<g font-size="16" fill="#2a2a2a"><text transform="translate(181.78,683.5) scale(1.191,1)" x="-2.66">(</text><text transform="translate(190.12,683.5) scale(1.163,1)" x="-4.45">8</text><text transform="translate(200.47,683.5) scale(1.163,1)" x="-4.45">1</text><text transform="translate(210.83,683.5) scale(1.163,1)" x="-4.45">9</text><text transform="translate(221.18,683.5) scale(1.163,1)" x="-4.45">5</text><text transform="translate(229.52,683.5) scale(1.191,1)" x="-2.66">)</text></g>
<g font-size="16" font-weight="bold" fill="#1a1a1a"><text transform="translate(248.51,683.5) scale(1.126,1)" x="-5.34">S</text><text transform="translate(263.22,683.5) scale(1.222,1)" x="-7.11">m</text><text transform="translate(277.54,683.5) scale(1.266,1)" x="-4.45">a</text><path d="M284.34,672.48 h6.76 v1.68 h-1.79 v8.16 h1.79 v1.68 h-6.76 v-1.68 h1.79 v-8.16 h-1.79 Z"/></g>
<polyline points="356.66,678.08 339.57,677.41 296.3,689.8" fill="none" stroke="#6b6b6b" stroke-width="1.2"/>
<g font-size="16" fill="#2a2a2a"><text transform="translate(108.66,702.8) scale(1.180,1)" x="-2.66">(</text><text transform="translate(116.93,702.8) scale(1.152,1)" x="-4.45">8</text><text transform="translate(127.18,702.8) scale(1.152,1)" x="-4.45">1</text><text transform="translate(137.42,702.8) scale(1.152,1)" x="-4.45">9</text><text transform="translate(147.67,702.8) scale(1.152,1)" x="-4.45">3</text><text transform="translate(155.94,702.8) scale(1.180,1)" x="-2.66">)</text></g>
<g font-size="16" font-weight="bold" fill="#1a1a1a"><text transform="translate(175.91,702.8) scale(1.102,1)" x="-4.89">T</text><text transform="translate(185.99,702.8) scale(1.056,1)" x="-4.45">s</text><text transform="translate(196.34,702.8) scale(1.156,1)" x="-4.89">p</text><text transform="translate(209.85,702.8) scale(1.179,1)" x="-6.66">M</text><path d="M218.81,691.48 h6.39 v1.68 h-1.7 v8.16 h1.7 v1.68 h-6.39 v-1.68 h1.7 v-8.16 h-1.7 Z"/></g>
<g font-size="16" fill="#2a2a2a"><text transform="translate(234.3,702.8) scale(1.235,1)" x="-2.66">-</text></g>
<g font-size="16" font-weight="bold" fill="#1a1a1a"><text transform="translate(249.6,702.8) scale(1.163,1)" x="-5.34">X</text><text transform="translate(264.2,702.8) scale(1.179,1)" x="-7.11">m</text><text transform="translate(278.02,702.8) scale(1.221,1)" x="-4.45">a</text><path d="M284.58,691.48 h6.52 v1.68 h-1.73 v8.16 h1.73 v1.68 h-6.52 v-1.68 h1.73 v-8.16 h-1.73 Z"/></g>
<polyline points="365.61,770.9 348.96,774.82 307.6,782.9" fill="none" stroke="#6b6b6b" stroke-width="1.2"/>
<g font-size="16" fill="#2a2a2a"><text transform="translate(191.19,794.5) scale(1.201,1)" x="-2.66">(</text><text transform="translate(199.6,794.5) scale(1.172,1)" x="-4.45">7</text><text transform="translate(210.03,794.5) scale(1.172,1)" x="-4.45">7</text><text transform="translate(220.47,794.5) scale(1.172,1)" x="-4.45">2</text><text transform="translate(230.9,794.5) scale(1.172,1)" x="-4.45">8</text><text transform="translate(239.31,794.5) scale(1.201,1)" x="-2.66">)</text></g>
<g font-size="16" font-weight="bold" fill="#1a1a1a"><text transform="translate(258.04,794.5) scale(1.133,1)" x="-5.34">S</text><text transform="translate(269.75,794.5) scale(1.273,1)" x="-4.45">a</text><text transform="translate(280.4,794.5) scale(1.119,1)" x="-4.45">c</text><path d="M286.55,783.48 h6.8 v1.68 h-1.81 v8.16 h1.81 v1.68 h-6.8 v-1.68 h1.81 v-8.16 h-1.81 Z"/><path d="M295.7,783.48 h6.8 v1.68 h-1.81 v8.16 h1.81 v1.68 h-6.8 v-1.68 h1.81 v-8.16 h-1.81 Z"/></g>
<polyline points="403.41,865.88 388.63,874.47 328.6,858.5" fill="none" stroke="#6b6b6b" stroke-width="1.2"/>
<g font-size="16" fill="#2a2a2a"><text transform="translate(219.15,863.7) scale(1.175,1)" x="-2.66">(</text><text transform="translate(227.39,863.7) scale(1.147,1)" x="-4.45">7</text><text transform="translate(237.6,863.7) scale(1.147,1)" x="-4.45">2</text><text transform="translate(247.8,863.7) scale(1.147,1)" x="-4.45">1</text><text transform="translate(258.01,863.7) scale(1.147,1)" x="-4.45">8</text><text transform="translate(266.25,863.7) scale(1.175,1)" x="-2.66">)</text></g>
<g font-size="16" font-weight="bold" fill="#1a1a1a"><text transform="translate(287.08,863.7) scale(1.159,1)" x="-5.34">X</text><text transform="translate(299.01,863.7) scale(1.175,1)" x="-4.89">b</text><text transform="translate(310.16,863.7) scale(1.217,1)" x="-4.45">a</text><path d="M316.7,852.48 h6.5 v1.68 h-1.72 v8.16 h1.72 v1.68 h-6.5 v-1.68 h1.72 v-8.16 h-1.72 Z"/></g>
<polyline points="404.84,868.31 390.13,877.02 336.7,873.8" fill="none" stroke="#6b6b6b" stroke-width="1.2"/>
<g font-size="16" fill="#2a2a2a"><text transform="translate(21.77,882.7) scale(1.187,1)" x="-2.66">(</text><text transform="translate(30.08,882.7) scale(1.159,1)" x="-4.45">7</text><text transform="translate(40.39,882.7) scale(1.159,1)" x="-4.45">2</text><text transform="translate(50.71,882.7) scale(1.159,1)" x="-4.45">0</text><text transform="translate(61.02,882.7) scale(1.159,1)" x="-4.45">4</text><text transform="translate(69.33,882.7) scale(1.187,1)" x="-2.66">)</text></g>
<g font-size="16" font-weight="bold" fill="#1a1a1a"><text transform="translate(88.44,882.7) scale(1.161,1)" x="-5.34">P</text><text transform="translate(100.34,882.7) scale(1.282,1)" x="-4.45">a</text><text transform="translate(111.77,882.7) scale(1.288,1)" x="-4.45">e</text><text transform="translate(124.01,882.7) scale(1.126,1)" x="-5.78">R</text><text transform="translate(136.39,882.7) scale(1.321,1)" x="-4.45">7</text><path d="M143.46,871.48 h6.84 v1.68 h-1.82 v8.16 h1.82 v1.68 h-6.84 v-1.68 h1.82 v-8.16 h-1.82 Z"/></g>
<g font-size="16" fill="#2a2a2a"><text transform="translate(159.95,882.7) scale(1.312,1)" x="-2.66">-</text></g>
<g font-size="16" font-weight="bold" fill="#1a1a1a"><text transform="translate(174.11,882.7) scale(1.127,1)" x="-5.34">P</text><text transform="translate(185.01,882.7) scale(1.098,1)" x="-4.45">s</text><text transform="translate(195.77,882.7) scale(1.202,1)" x="-4.89">p</text><text transform="translate(207.97,882.7) scale(1.186,1)" x="-5.34">X</text><path d="M215.45,871.48 h6.65 v1.68 h-1.76 v8.16 h1.76 v1.68 h-6.65 v-1.68 h1.76 v-8.16 h-1.76 Z"/></g>
<g font-size="16" fill="#2a2a2a"><text transform="translate(231.8,882.7) scale(1.081,1)" x="-2.66">-</text></g>
<g font-size="16" font-weight="bold" fill="#1a1a1a"><text transform="translate(246.52,882.7) scale(1.105,1)" x="-4.89">T</text><text transform="translate(254.64,882.7) scale(1.221,1)" x="-2.22">l</text><text transform="translate(260.06,882.7) scale(1.221,1)" x="-2.22">i</text><path d="M263.89,871.48 h6.41 v1.68 h-1.7 v8.16 h1.7 v1.68 h-6.41 v-1.68 h1.7 v-8.16 h-1.7 Z"/></g>
<g font-size="16" fill="#2a2a2a"><text transform="translate(280.9,882.7) scale(1.081,1)" x="-2.66">-</text></g>
<g font-size="16" font-weight="bold" fill="#1a1a1a"><text transform="translate(294.8,882.7) scale(1.164,1)" x="-5.34">X</text><text transform="translate(306.75,882.7) scale(1.173,1)" x="-4.89">h</text><text transform="translate(318.01,882.7) scale(1.132,1)" x="-4.89">o</text><path d="M324.68,871.48 h6.52 v1.68 h-1.73 v8.16 h1.73 v1.68 h-6.52 v-1.68 h1.73 v-8.16 h-1.73 Z"/></g>
<polyline points="405.97,870.21 391.32,879.02 346.4,889.3" fill="none" stroke="#6b6b6b" stroke-width="1.2"/>
<g font-size="16" fill="#2a2a2a"><text transform="translate(169.65,901.6) scale(1.173,1)" x="-2.66">(</text><text transform="translate(177.87,901.6) scale(1.145,1)" x="-4.45">7</text><text transform="translate(188.06,901.6) scale(1.145,1)" x="-4.45">1</text><text transform="translate(198.24,901.6) scale(1.145,1)" x="-4.45">9</text><text transform="translate(208.43,901.6) scale(1.145,1)" x="-4.45">3</text><text transform="translate(216.65,901.6) scale(1.173,1)" x="-2.66">)</text></g>
<g font-size="16" font-weight="bold" fill="#1a1a1a"><text transform="translate(236.62,901.6) scale(1.076,1)" x="-5.78">B</text><text transform="translate(247.69,901.6) scale(1.091,1)" x="-4.45">s</text><text transform="translate(258.38,901.6) scale(1.194,1)" x="-4.89">p</text><text transform="translate(270.98,901.6) scale(1.172,1)" x="-5.78">D</text><path d="M278.89,890.48 h6.61 v1.68 h-1.75 v8.16 h1.75 v1.68 h-6.61 v-1.68 h1.75 v-8.16 h-1.75 Z"/></g>
<g font-size="16" fill="#2a2a2a"><text transform="translate(295.45,901.6) scale(1.158,1)" x="-2.66">-</text></g>
<g font-size="16" font-weight="bold" fill="#1a1a1a"><text transform="translate(309.62,901.6) scale(1.085,1)" x="-5.78">C</text><text transform="translate(318.82,901.6) scale(1.318,1)" x="-2.22">l</text><text transform="translate(327.52,901.6) scale(1.296,1)" x="-4.45">a</text><path d="M334.48,890.48 h6.92 v1.68 h-1.84 v8.16 h1.84 v1.68 h-6.92 v-1.68 h1.84 v-8.16 h-1.84 Z"/></g>
<polyline points="407.43,872.62 392.85,881.54 356,904.6" fill="none" stroke="#6b6b6b" stroke-width="1.2"/>
<g font-size="16" fill="#2a2a2a"><text transform="translate(251.14,921.2) scale(1.170,1)" x="-2.66">(</text><text transform="translate(259.35,921.2) scale(1.143,1)" x="-4.45">7</text><text transform="translate(269.52,921.2) scale(1.143,1)" x="-4.45">1</text><text transform="translate(279.68,921.2) scale(1.143,1)" x="-4.45">7</text><text transform="translate(289.85,921.2) scale(1.143,1)" x="-4.45">9</text><text transform="translate(298.06,921.2) scale(1.170,1)" x="-2.66">)</text></g>
<g font-size="16" font-weight="bold" fill="#1a1a1a"><text transform="translate(318.69,921.2) scale(1.172,1)" x="-5.78">N</text><text transform="translate(331.02,921.2) scale(1.138,1)" x="-4.89">o</text><text transform="translate(340.44,921.2) scale(1.452,1)" x="-2.66">t</text><path d="M345.45,909.48 h6.55 v1.68 h-1.74 v8.16 h1.74 v1.68 h-6.55 v-1.68 h1.74 v-8.16 h-1.74 Z"/></g>
<polyline points="408.91,875.01 394.4,884.06 366.2,921.2" fill="none" stroke="#6b6b6b" stroke-width="1.2"/>
<g font-size="16" fill="#2a2a2a"><text transform="translate(240.34,940.7) scale(1.166,1)" x="-2.66">(</text><text transform="translate(248.51,940.7) scale(1.138,1)" x="-4.45">7</text><text transform="translate(258.64,940.7) scale(1.138,1)" x="-4.45">1</text><text transform="translate(268.76,940.7) scale(1.138,1)" x="-4.45">6</text><text transform="translate(278.89,940.7) scale(1.138,1)" x="-4.45">5</text><text transform="translate(287.06,940.7) scale(1.166,1)" x="-2.66">)</text></g>
<g font-size="16" font-weight="bold" fill="#1a1a1a"><text transform="translate(307.12,940.7) scale(1.077,1)" x="-5.78">B</text><text transform="translate(318.86,940.7) scale(1.238,1)" x="-4.45">a</text><text transform="translate(332.87,940.7) scale(1.196,1)" x="-7.11">m</text><text transform="translate(348.21,940.7) scale(1.183,1)" x="-5.78">H</text><path d="M356.19,929.48 h6.61 v1.68 h-1.76 v8.16 h1.76 v1.68 h-6.61 v-1.68 h1.76 v-8.16 h-1.76 Z"/></g>
<polyline points="412.48,880.61 398.14,889.93 378.5,937.7" fill="none" stroke="#6b6b6b" stroke-width="1.2"/>
<g font-size="16" fill="#2a2a2a"><text transform="translate(273.35,959.6) scale(1.175,1)" x="-2.66">(</text><text transform="translate(281.59,959.6) scale(1.147,1)" x="-4.45">7</text><text transform="translate(291.8,959.6) scale(1.147,1)" x="-4.45">1</text><text transform="translate(302,959.6) scale(1.147,1)" x="-4.45">3</text><text transform="translate(312.21,959.6) scale(1.147,1)" x="-4.45">2</text><text transform="translate(320.45,959.6) scale(1.175,1)" x="-2.66">)</text></g>
<g font-size="16" font-weight="bold" fill="#1a1a1a"><text transform="translate(339.7,959.6) scale(1.123,1)" x="-5.34">S</text><text transform="translate(351.65,959.6) scale(1.219,1)" x="-4.89">p</text><text transform="translate(363.25,959.6) scale(1.269,1)" x="-4.45">e</text><path d="M370.06,948.48 h6.74 v1.68 h-1.79 v8.16 h1.79 v1.68 h-6.74 v-1.68 h1.79 v-8.16 h-1.79 Z"/></g>
<polyline points="430.63,905.95 417.19,916.52 393.8,958.4" fill="none" stroke="#6b6b6b" stroke-width="1.2"/>
<g font-size="16" fill="#2a2a2a"><text transform="translate(289.76,979.6) scale(1.180,1)" x="-2.66">(</text><text transform="translate(298.03,979.6) scale(1.152,1)" x="-4.45">6</text><text transform="translate(308.28,979.6) scale(1.152,1)" x="-4.45">9</text><text transform="translate(318.52,979.6) scale(1.152,1)" x="-4.45">7</text><text transform="translate(328.77,979.6) scale(1.152,1)" x="-4.45">7</text><text transform="translate(337.04,979.6) scale(1.180,1)" x="-2.66">)</text></g>
<g font-size="16" font-weight="bold" fill="#1a1a1a"><text transform="translate(357.94,979.6) scale(1.077,1)" x="-5.78">A</text><text transform="translate(368.95,979.6) scale(1.075,1)" x="-4.45">s</text><text transform="translate(378.5,979.6) scale(1.071,1)" x="-4.45">c</text><path d="M384.39,968.48 h6.51 v1.68 h-1.73 v8.16 h1.73 v1.68 h-6.51 v-1.68 h1.73 v-8.16 h-1.73 Z"/></g>
<polyline points="536.59,995.71 528.37,1010.71 494.4,1054.3" fill="none" stroke="#6b6b6b" stroke-width="1.2"/>
<g font-size="16" fill="#2a2a2a"><text transform="translate(389.16,1072.8) scale(1.182,1)" x="-2.66">(</text><text transform="translate(397.45,1072.8) scale(1.154,1)" x="-4.45">6</text><text transform="translate(407.72,1072.8) scale(1.154,1)" x="-4.45">2</text><text transform="translate(417.98,1072.8) scale(1.154,1)" x="-4.45">8</text><text transform="translate(428.25,1072.8) scale(1.154,1)" x="-4.45">2</text><text transform="translate(436.54,1072.8) scale(1.182,1)" x="-2.66">)</text></g>
<g font-size="16" font-weight="bold" fill="#1a1a1a"><text transform="translate(457.28,1072.8) scale(1.083,1)" x="-5.78">A</text><text transform="translate(468.99,1072.8) scale(1.226,1)" x="-4.45">a</text><text transform="translate(478.43,1072.8) scale(1.281,1)" x="-3.11">r</text><path d="M483.55,1061.48 h6.55 v1.68 h-1.74 v8.16 h1.74 v1.68 h-6.55 v-1.68 h1.74 v-8.16 h-1.74 Z"/></g>
<polyline points="593.67,1020.62 588.26,1036.84 541.8,1084.8" fill="none" stroke="#6b6b6b" stroke-width="1.2"/>
<g font-size="16" fill="#2a2a2a"><text transform="translate(423.36,1100.9) scale(1.180,1)" x="-2.66">(</text><text transform="translate(431.63,1100.9) scale(1.152,1)" x="-4.45">5</text><text transform="translate(441.88,1100.9) scale(1.152,1)" x="-4.45">9</text><text transform="translate(452.12,1100.9) scale(1.152,1)" x="-4.45">7</text><text transform="translate(462.37,1100.9) scale(1.152,1)" x="-4.45">2</text><text transform="translate(470.64,1100.9) scale(1.180,1)" x="-2.66">)</text></g>
<g font-size="16" font-weight="bold" fill="#1a1a1a"><text transform="translate(490.13,1100.9) scale(1.127,1)" x="-4.89">F</text><text transform="translate(500.43,1100.9) scale(1.078,1)" x="-4.45">s</text><text transform="translate(511,1100.9) scale(1.181,1)" x="-4.89">p</text><text transform="translate(523,1100.9) scale(1.080,1)" x="-5.78">A</text><path d="M530.37,1089.48 h6.53 v1.68 h-1.73 v8.16 h1.73 v1.68 h-6.53 v-1.68 h1.73 v-8.16 h-1.73 Z"/></g>
<polyline points="624.83,1029.41 620.96,1046.06 581.4,1102.4" fill="none" stroke="#6b6b6b" stroke-width="1.2"/>
<g font-size="16" fill="#2a2a2a"><text transform="translate(468.06,1121.4) scale(1.180,1)" x="-2.66">(</text><text transform="translate(476.33,1121.4) scale(1.152,1)" x="-4.45">5</text><text transform="translate(486.58,1121.4) scale(1.152,1)" x="-4.45">8</text><text transform="translate(496.82,1121.4) scale(1.152,1)" x="-4.45">1</text><text transform="translate(507.07,1121.4) scale(1.152,1)" x="-4.45">1</text><text transform="translate(515.34,1121.4) scale(1.180,1)" x="-2.66">)</text></g>
<g font-size="16" font-weight="bold" fill="#1a1a1a"><text transform="translate(534.64,1121.4) scale(1.059,1)" x="-5.78">B</text><text transform="translate(545.54,1121.4) scale(1.074,1)" x="-4.45">s</text><text transform="translate(554.16,1121.4) scale(1.440,1)" x="-2.66">t</text><text transform="translate(564.18,1121.4) scale(1.160,1)" x="-5.34">X</text><path d="M571.5,1109.48 h6.5 v1.68 h-1.73 v8.16 h1.73 v1.68 h-6.5 v-1.68 h1.73 v-8.16 h-1.73 Z"/></g>
<polyline points="649.88,373.96 642.68,331.16 641.2,226.6" fill="none" stroke="#6b6b6b" stroke-width="1.2"/>
<rect x="533.1" y="206.5" width="111.2" height="19.8" rx="4.5" ry="4.5" fill="#a9cfd9" stroke="#3f8ea8" stroke-width="1.2"/>
<g font-size="16.5" fill="#2a2a2a"><text transform="translate(537.97,222.2) scale(1.180,1)" x="-1.83">l</text><text transform="translate(545.68,222.2) scale(1.040,1)" x="-4.59">a</text><text transform="translate(555.73,222.2) scale(1.038,1)" x="-4.12">c</text><text transform="translate(571.28,222.2) scale(1.038,1)" x="-4.59">o</text><text transform="translate(582.07,222.2) scale(1.077,1)" x="-4.59">p</text><text transform="translate(592.88,222.2) scale(1.044,1)" x="-4.59">e</text><text transform="translate(601.76,222.2) scale(1.165,1)" x="-2.75">r</text><text transform="translate(610.62,222.2) scale(1.040,1)" x="-4.59">a</text><text transform="translate(619.31,222.2) scale(1.332,1)" x="-2.29">t</text><text transform="translate(627.99,222.2) scale(1.038,1)" x="-4.59">o</text><text transform="translate(636.84,222.2) scale(1.165,1)" x="-2.75">r</text></g>
<polyline points="635.8,376.65 626.71,334.22 586.8,249.7" fill="none" stroke="#6b6b6b" stroke-width="1.2"/>
<rect x="440.3" y="230.7" width="147.5" height="20.5" rx="4.5" ry="4.5" fill="#a9cfd9" stroke="#3f8ea8" stroke-width="1.2"/>
<g font-size="16.5" fill="#2a2a2a"><text transform="translate(449.27,246.5) scale(0.912,1)" x="-5.96">C</text><text transform="translate(461.23,246.5) scale(0.968,1)" x="-5.5">A</text><text transform="translate(472.36,246.5) scale(0.853,1)" x="-5.5">P</text><text transform="translate(488.57,246.5) scale(1.077,1)" x="-4.59">b</text><text transform="translate(496.46,246.5) scale(1.180,1)" x="-1.83">i</text><text transform="translate(504.35,246.5) scale(1.075,1)" x="-4.59">n</text><text transform="translate(515.32,246.5) scale(1.077,1)" x="-4.59">d</text><text transform="translate(523.22,246.5) scale(1.180,1)" x="-1.83">i</text><text transform="translate(531.11,246.5) scale(1.075,1)" x="-4.59">n</text><text transform="translate(542.08,246.5) scale(1.077,1)" x="-4.59">g</text><text transform="translate(557.58,246.5) scale(0.983,1)" x="-4.12">s</text><text transform="translate(564.49,246.5) scale(1.180,1)" x="-1.83">i</text><text transform="translate(570.28,246.5) scale(1.332,1)" x="-2.29">t</text><text transform="translate(579,246.5) scale(1.044,1)" x="-4.59">e</text></g>
<polyline points="976.13,520.48 1011.72,498.18 1053.6,475.2" fill="none" stroke="#6b6b6b" stroke-width="1.2"/>
<rect x="1053.6" y="462" width="122.4" height="20" rx="4.5" ry="4.5" fill="#dcb4c8" stroke="#c07fa0" stroke-width="1.2"/>
<g font-size="16.5" fill="#2a2a2a"><text transform="translate(1062.16,476.9) scale(1.083,1)" x="-4.59">g</text><text transform="translate(1073.2,476.9) scale(1.083,1)" x="-4.59">p</text><text transform="translate(1084.25,476.9) scale(1.085,1)" x="-4.59">4</text><text transform="translate(1095.31,476.9) scale(1.085,1)" x="-4.59">1</text><text transform="translate(1111.89,476.9) scale(1.083,1)" x="-4.59">p</text><text transform="translate(1122.75,476.9) scale(1.049,1)" x="-4.59">e</text><text transform="translate(1133.62,476.9) scale(1.083,1)" x="-4.59">p</text><text transform="translate(1142.55,476.9) scale(1.338,1)" x="-2.29">t</text><text transform="translate(1148.37,476.9) scale(1.186,1)" x="-1.83">i</text><text transform="translate(1156.31,476.9) scale(1.083,1)" x="-4.59">d</text><text transform="translate(1167.18,476.9) scale(1.049,1)" x="-4.59">e</text></g>
<polyline points="1025.3,691.5 1067.3,691.5 1109,651" fill="none" stroke="#6b6b6b" stroke-width="1.2"/>
<rect x="1109.6" y="634.6" width="128.8" height="20.8" rx="4.5" ry="4.5" fill="#ffffff" stroke="#a0a0a0" stroke-width="1.2"/>
<g font-size="16.5" fill="#2a2a2a"><text transform="translate(1118,650.7) scale(0.900,1)" x="-5.96">C</text><text transform="translate(1131.33,650.7) scale(0.965,1)" x="-6.87">M</text><text transform="translate(1144.53,650.7) scale(0.955,1)" x="-5.5">V</text><text transform="translate(1161.22,650.7) scale(1.063,1)" x="-4.59">p</text><text transform="translate(1170.15,650.7) scale(1.150,1)" x="-2.75">r</text><text transform="translate(1178.88,650.7) scale(1.025,1)" x="-4.59">o</text><text transform="translate(1192.42,650.7) scale(1.089,1)" x="-6.87">m</text><text transform="translate(1205.96,650.7) scale(1.025,1)" x="-4.59">o</text><text transform="translate(1214.53,650.7) scale(1.314,1)" x="-2.29">t</text><text transform="translate(1223.13,650.7) scale(1.030,1)" x="-4.59">e</text><text transform="translate(1231.89,650.7) scale(1.150,1)" x="-2.75">r</text></g>
<polyline points="1024.72,710.88 1066.64,713.4 1112,676" fill="none" stroke="#6b6b6b" stroke-width="1.2"/>
<rect x="1112" y="659.6" width="112.6" height="20.4" rx="4.5" ry="4.5" fill="#a9cfd9" stroke="#3f8ea8" stroke-width="1.2"/>
<g font-size="16.5" fill="#2a2a2a"><text transform="translate(1118.97,674.9) scale(1.349,1)" x="-2.29">t</text><text transform="translate(1127.79,674.9) scale(1.057,1)" x="-4.59">e</text><text transform="translate(1136.62,674.9) scale(1.349,1)" x="-2.29">t</text><text transform="translate(1150.99,674.9) scale(1.052,1)" x="-4.59">o</text><text transform="translate(1161.91,674.9) scale(1.091,1)" x="-4.59">p</text><text transform="translate(1172.86,674.9) scale(1.057,1)" x="-4.59">e</text><text transform="translate(1181.86,674.9) scale(1.180,1)" x="-2.75">r</text><text transform="translate(1190.83,674.9) scale(1.053,1)" x="-4.59">a</text><text transform="translate(1199.64,674.9) scale(1.349,1)" x="-2.29">t</text><text transform="translate(1208.43,674.9) scale(1.052,1)" x="-4.59">o</text><text transform="translate(1217.4,674.9) scale(1.180,1)" x="-2.75">r</text></g>
<polyline points="1024.44,715.08 1066.32,718.16 1110.5,698" fill="none" stroke="#6b6b6b" stroke-width="1.2"/>
<rect x="1112" y="684.6" width="112.6" height="20.4" rx="4.5" ry="4.5" fill="#a9cfd9" stroke="#3f8ea8" stroke-width="1.2"/>
<g font-size="16.5" fill="#2a2a2a"><text transform="translate(1118.97,699.9) scale(1.349,1)" x="-2.29">t</text><text transform="translate(1127.79,699.9) scale(1.057,1)" x="-4.59">e</text><text transform="translate(1136.62,699.9) scale(1.349,1)" x="-2.29">t</text><text transform="translate(1150.99,699.9) scale(1.052,1)" x="-4.59">o</text><text transform="translate(1161.91,699.9) scale(1.091,1)" x="-4.59">p</text><text transform="translate(1172.86,699.9) scale(1.057,1)" x="-4.59">e</text><text transform="translate(1181.86,699.9) scale(1.180,1)" x="-2.75">r</text><text transform="translate(1190.83,699.9) scale(1.053,1)" x="-4.59">a</text><text transform="translate(1199.64,699.9) scale(1.349,1)" x="-2.29">t</text><text transform="translate(1208.43,699.9) scale(1.052,1)" x="-4.59">o</text><text transform="translate(1217.4,699.9) scale(1.180,1)" x="-2.75">r</text></g>
<polyline points="1021.47,741.04 1062.97,747.5 1102.7,763.4" fill="none" stroke="#6b6b6b" stroke-width="1.2"/>
<rect x="1105" y="762" width="148.6" height="20" rx="4.5" ry="4.5" fill="#c9cbce" stroke="#9b9ea2" stroke-width="1.2"/>
<g font-size="16.5" fill="#2a2a2a"><text transform="translate(1113.02,776.9) scale(0.939,1)" x="-5.5">K</text><text transform="translate(1124.13,776.9) scale(1.051,1)" x="-4.59">o</text><text transform="translate(1134.08,776.9) scale(1.003,1)" x="-4.12">z</text><text transform="translate(1144.05,776.9) scale(1.053,1)" x="-4.59">a</text><text transform="translate(1154.48,776.9) scale(1.107,1)" x="-4.12">k</text><text transform="translate(1169.69,776.9) scale(0.996,1)" x="-4.12">s</text><text transform="translate(1179.64,776.9) scale(1.057,1)" x="-4.59">e</text><text transform="translate(1190.59,776.9) scale(1.090,1)" x="-4.59">q</text><text transform="translate(1201.7,776.9) scale(1.089,1)" x="-4.59">u</text><text transform="translate(1212.64,776.9) scale(1.057,1)" x="-4.59">e</text><text transform="translate(1223.57,776.9) scale(1.089,1)" x="-4.59">n</text><text transform="translate(1233.94,776.9) scale(1.051,1)" x="-4.12">c</text><text transform="translate(1244.14,776.9) scale(1.057,1)" x="-4.59">e</text></g>
<polyline points="1020.88,744.65 1062.31,751.58 1099,784.3" fill="none" stroke="#6b6b6b" stroke-width="1.2"/>
<rect x="1099.4" y="787" width="89.2" height="20.4" rx="4.5" ry="4.5" fill="#dcb4c8" stroke="#b0507f" stroke-width="1.2"/>
<g font-size="16.5" fill="#2a2a2a"><text transform="translate(1107.33,801.9) scale(0.894,1)" x="-5.5">S</text><text transform="translate(1118.68,801.9) scale(0.963,1)" x="-5.5">V</text><text transform="translate(1130.05,801.9) scale(1.074,1)" x="-4.59">4</text><text transform="translate(1141.01,801.9) scale(1.074,1)" x="-4.59">0</text><text transform="translate(1158.4,801.9) scale(0.973,1)" x="-5.96">N</text><text transform="translate(1169.63,801.9) scale(0.941,1)" x="-4.59">L</text><text transform="translate(1179.89,801.9) scale(0.894,1)" x="-5.5">S</text></g>
<path d="M703.57,384.5A307,307 0 0 1 813.32,404.89L805.86,424.31A286.2,286.2 0 0 0 703.55,405.3Z" fill="#ffe3c4" stroke="#5e5e5e" stroke-width="1.1" stroke-linejoin="miter"/>
<path d="M820.49,407.75A307,307 0 0 1 841.77,417.5L832.39,436.06A286.2,286.2 0 0 0 812.55,426.97Z" fill="#ffe3c4" stroke="#5e5e5e" stroke-width="1.1" stroke-linejoin="miter"/>
<path d="M913.65,467.89A307,307 0 0 1 941.88,498.3L925.72,511.39A286.2,286.2 0 0 0 899.4,483.04Z" fill="#ffe3c4" stroke="#5e5e5e" stroke-width="1.1" stroke-linejoin="miter"/>
<path d="M961.01,524.66A307,307 0 0 1 963.37,528.36L968.03,525.44L956.89,537.68L941.09,542.34L945.75,539.41A286.2,286.2 0 0 0 943.54,535.96Z" fill="#d09abb" stroke="#3a3a3a" stroke-width="1.2" stroke-linejoin="miter"/>
<path d="M988.48,577.84A307,307 0 0 1 995.6,597.65L975.8,604.01A286.2,286.2 0 0 0 969.16,585.54Z" fill="#ffe3c4" stroke="#5e5e5e" stroke-width="1.1" stroke-linejoin="miter"/>
<path d="M1001.31,617.75A307,307 0 0 1 1009.66,671.69L988.9,673.03A286.2,286.2 0 0 0 981.12,622.75Z" fill="#ffffff" stroke="#5e5e5e" stroke-width="1.1" stroke-linejoin="miter"/>
<path d="M1009.66,671.69A307,307 0 0 1 1010.3,690.7L1015.8,690.68L999.48,707.28L984,690.77L989.5,690.75A286.2,286.2 0 0 0 988.9,673.03Z" fill="#ffffff" stroke="#5e5e5e" stroke-width="1.1" stroke-linejoin="miter"/>
<path d="M1009.84,708.26A307,307 0 0 1 1009.57,712.7L988.82,711.26A286.2,286.2 0 0 0 989.07,707.13Z" fill="#31849b" stroke="#333" stroke-width="1.1" stroke-linejoin="miter"/>
<path d="M1009.57,712.7A307,307 0 0 1 1009.23,717.14L988.5,715.4A286.2,286.2 0 0 0 988.82,711.26Z" fill="#31849b" stroke="#333" stroke-width="1.1" stroke-linejoin="miter"/>
<path d="M1006.86,737.3A307,307 0 0 1 1006.47,739.84L985.93,736.57A286.2,286.2 0 0 0 986.3,734.2Z" fill="#8c8f93" stroke="#3a3a3a" stroke-width="0.9" stroke-linejoin="miter"/>
<path d="M1006.44,740.05A307,307 0 0 1 1006.05,742.43L1011.47,743.35L995.48,742.49L980.11,738.07L985.53,738.98A286.2,286.2 0 0 0 985.9,736.76Z" fill="#993366" stroke="#222" stroke-width="1.0" stroke-linejoin="miter"/>
<path d="M1005.5,745.6A307,307 0 0 1 463.61,883.32L459.31,886.76L455.4,854.34L484.14,866.89L479.85,870.33A286.2,286.2 0 0 0 985.02,741.94Z" fill="#993366" stroke="#1c1c1c" stroke-width="1.3" stroke-linejoin="miter"/>
<line x1="984.73" y1="746.72" x2="1003.97" y2="750.49" stroke="#fff" stroke-width="1.6" />
<line x1="984.73" y1="746.72" x2="1003.97" y2="750.49" stroke="#000" stroke-width="1.6" stroke-dasharray="1.6 1.6"/>
<line x1="682.79" y1="977.57" x2="681.39" y2="997.12" stroke="#fff" stroke-width="1.6" />
<line x1="682.79" y1="977.57" x2="681.39" y2="997.12" stroke="#000" stroke-width="1.6" stroke-dasharray="1.6 1.6"/>
<path d="M442.95,854.19A307,307 0 0 1 442.44,853.37L460.11,842.4A286.2,286.2 0 0 0 460.59,843.16Z" fill="#a8336f" stroke="none" stroke-width="0" stroke-linejoin="miter"/>
<path d="M443.92,855.73A307,307 0 0 1 442.89,854.09L460.54,843.08A286.2,286.2 0 0 0 461.49,844.6Z" fill="#993366" stroke="#1a1a1a" stroke-width="0.9" stroke-linejoin="miter"/>
<line x1="466.17" y1="841.7" x2="439.3" y2="858.72" stroke="#1a1a1a" stroke-width="1.1" />
<path d="M437.03,844.3A307,307 0 0 1 401.44,747.45L421.89,743.66A286.2,286.2 0 0 0 455.07,833.95Z" fill="#ffffff" stroke="#5e5e5e" stroke-width="1.1" stroke-linejoin="miter"/>
<path d="M399.26,734.01A307,307 0 0 1 396.3,692.41L417.1,692.35A286.2,286.2 0 0 0 419.86,731.13Z" fill="#ffe3c4" stroke="#5e5e5e" stroke-width="1.1" stroke-linejoin="miter"/>
<path d="M398.35,656.05A307,307 0 0 1 399.52,647.18L394.07,646.39L411.34,639.23L425.54,650.98L420.1,650.19A286.2,286.2 0 0 0 419.01,658.46Z" fill="#ffffff" stroke="#5e5e5e" stroke-width="1.1" stroke-linejoin="miter"/>
<path d="M401.2,636.87A307,307 0 0 1 447,522.5L442.41,519.47L471.82,506.05L468.96,536.98L464.37,533.95A286.2,286.2 0 0 0 421.67,640.57Z" fill="#ccfccc" stroke="#767676" stroke-width="1.1" stroke-linejoin="miter"/>
<line x1="423.23" y1="629.72" x2="404.09" y2="625.5" stroke="#fff" stroke-width="1.6" />
<line x1="423.23" y1="629.72" x2="404.09" y2="625.5" stroke="#000" stroke-width="1.6" stroke-dasharray="1.6 1.6"/>
<path d="M484.33,476.32A307,307 0 0 1 544.27,428.9L541.42,424.2L572.81,425.15L557.89,451.4L555.04,446.69A286.2,286.2 0 0 0 499.17,490.9Z" fill="#ffff00" stroke="#55555e" stroke-width="1.1" stroke-linejoin="miter"/>
<path d="M636.59,391.84A307,307 0 0 1 641.04,390.88L645.26,411.25A286.2,286.2 0 0 0 641.11,412.14Z" fill="#31849b" stroke="#333" stroke-width="1.1" stroke-linejoin="miter"/>
<path d="M641.04,390.88A307,307 0 0 1 645.77,389.94L649.67,410.37A286.2,286.2 0 0 0 645.26,411.25Z" fill="#ffffff" stroke="#555" stroke-width="1.1" stroke-linejoin="miter"/>
<line x1="647.35" y1="410.21" x2="643.52" y2="390.99" stroke="#fff" stroke-width="1.6" />
<line x1="647.35" y1="410.21" x2="643.52" y2="390.99" stroke="#000" stroke-width="1.6" stroke-dasharray="1.6 1.6"/>
<line x1="650.7" y1="415.77" x2="644.74" y2="384.54" stroke="#333" stroke-width="1.2" />
<path d="M649.99,389.16A307,307 0 0 1 654.75,388.36L658.04,408.9A286.2,286.2 0 0 0 653.6,409.65Z" fill="#31849b" stroke="#333" stroke-width="1.1" stroke-linejoin="miter"/>
<line x1="659.68" y1="414.21" x2="654.74" y2="382.8" stroke="#333" stroke-width="1.2" />
<path d="M655.8,388.2A307,307 0 0 1 660.31,387.53L663.22,408.12A286.2,286.2 0 0 0 659.02,408.75Z" fill="#a020f0" stroke="none" stroke-width="0" stroke-linejoin="miter"/>
<line x1="445.48" y1="653.57" x2="428.66" y2="651.09" stroke="#6b6b6b" stroke-width="1.0" />
<line x1="663.38" y1="436.61" x2="660.66" y2="419.22" stroke="#6b6b6b" stroke-width="1.0" />
<circle cx="703.3" cy="691.5" r="344.9" fill="none" stroke="#242424" stroke-width="3.9"/>
<circle cx="703.3" cy="691.5" r="339.2" fill="none" stroke="#242424" stroke-width="3.9"/>
<line x1="703.97" y1="371.5" x2="704.01" y2="352.3" stroke="#242424" stroke-width="3.7" />
<line x1="1002.7" y1="561.01" x2="1014.25" y2="555.98" stroke="#242424" stroke-width="2.8" />
<line x1="942.54" y1="913.83" x2="951.77" y2="922.41" stroke="#242424" stroke-width="2.8" />
<line x1="595.06" y1="999.64" x2="590.89" y2="1011.53" stroke="#242424" stroke-width="2.8" />
<line x1="377.57" y1="715.39" x2="365.01" y2="716.31" stroke="#242424" stroke-width="2.8" />
<line x1="551.26" y1="402.45" x2="545.4" y2="391.29" stroke="#242424" stroke-width="2.8" />
<g font-size="16.8" fill="#1a1a1a" stroke="#1a1a1a" stroke-width="0.15"><text transform="translate(736.6,403.77) rotate(6.6) scale(1.129,1)" x="-4.67">3</text><text transform="translate(743.93,404.71) rotate(8.06) scale(1.420,1)" x="-1.6">'</text><text transform="translate(755.69,406.63) rotate(10.42) scale(0.988,1)" x="-4.67">L</text><text transform="translate(764.99,408.49) rotate(12.3) scale(0.986,1)" x="-5.13">T</text><text transform="translate(775.3,410.94) rotate(14.39) scale(0.949,1)" x="-6.07">R</text></g>
<g font-size="16.8" fill="#1a1a1a" stroke="#1a1a1a" stroke-width="0.15"><text transform="translate(788.61,441.71) rotate(18.86) scale(1.158,1)" x="-6.07">H</text><text transform="translate(797.6,444.97) rotate(20.93) scale(1.180,1)" x="-2.33">I</text><text transform="translate(805.89,448.3) rotate(22.87) scale(1.140,1)" x="-5.6">V</text><text transform="translate(814.61,452.17) rotate(24.94) scale(1.205,1)" x="-2.8">-</text><text transform="translate(822.79,456.15) rotate(26.92) scale(1.272,1)" x="-4.67">1</text><text transform="translate(838.24,464.65) rotate(30.75) scale(1.029,1)" x="-5.99">ψ</text></g>
<g font-size="16.8" fill="#1a1a1a" stroke="#1a1a1a" stroke-width="0.15"><text transform="translate(889.44,505.06) rotate(44.95) scale(0.936,1)" x="-6.07">R</text><text transform="translate(897.13,513.07) rotate(47.37) scale(0.936,1)" x="-6.07">R</text><text transform="translate(904.15,521.02) rotate(49.68) scale(0.922,1)" x="-5.6">E</text></g>
<g font-size="16.8" fill="#1a1a1a" stroke="#1a1a1a" stroke-width="0.15"><text transform="translate(921.98,546.38) rotate(56.43) scale(1.111,1)" x="-4.2">c</text><text transform="translate(927.12,554.44) rotate(58.52) scale(0.913,1)" x="-5.6">P</text><text transform="translate(932.18,563.07) rotate(60.7) scale(0.913,1)" x="-5.6">P</text><text transform="translate(936.94,571.94) rotate(62.9) scale(1.010,1)" x="-5.13">T</text><text transform="translate(940.41,578.99) rotate(64.62) scale(1.225,1)" x="-2.33">/</text><text transform="translate(943.97,586.81) rotate(66.49) scale(0.977,1)" x="-6.07">C</text><text transform="translate(948.09,596.86) rotate(68.86) scale(1.010,1)" x="-5.13">T</text><text transform="translate(951.63,606.56) rotate(71.12) scale(0.961,1)" x="-5.6">S</text></g>
<g font-size="16.8" fill="#1a1a1a" stroke="#1a1a1a" stroke-width="0.15"><text transform="translate(961.37,634.69) rotate(77.58) scale(1.017,1)" x="-6.07">C</text><text transform="translate(963.94,647.93) rotate(80.51) scale(1.090,1)" x="-7">M</text><text transform="translate(965.8,661.16) rotate(83.41) scale(1.079,1)" x="-5.6">V</text><text transform="translate(967.2,677.82) rotate(87.03) scale(1.164,1)" x="-4.67">e</text><text transform="translate(967.54,688.61) rotate(89.37) scale(1.199,1)" x="-4.67">n</text><text transform="translate(967.43,699.56) rotate(91.75) scale(1.199,1)" x="-4.67">h</text><text transform="translate(966.88,710.32) rotate(94.08) scale(1.159,1)" x="-4.67">a</text><text transform="translate(965.9,721.05) rotate(96.42) scale(1.199,1)" x="-4.67">n</text><text transform="translate(964.56,731.18) rotate(98.64) scale(1.157,1)" x="-4.2">c</text><text transform="translate(962.85,741.11) rotate(100.82) scale(1.164,1)" x="-4.67">e</text><text transform="translate(961.04,749.79) rotate(102.74) scale(1.299,1)" x="-2.8">r</text></g>
<g font-size="16.8" fill="#1a1a1a" stroke="#1a1a1a" stroke-width="0.15"><text transform="translate(735.52,965.66) rotate(-6.7) scale(1.257,1)" x="-4.67">d</text><text transform="translate(748.01,963.9) rotate(-9.32) scale(1.065,1)" x="-6.07">C</text><text transform="translate(760.2,961.62) rotate(-11.89) scale(1.214,1)" x="-4.67">a</text><text transform="translate(770.65,959.21) rotate(-14.12) scale(1.148,1)" x="-4.2">s</text><text transform="translate(781.21,956.33) rotate(-16.39) scale(1.260,1)" x="-4.67">9</text></g>
<g font-size="16.8" fill="#1a1a1a" stroke="#1a1a1a" stroke-width="0.15"><text transform="translate(452.88,806.23) rotate(65.38) scale(1.001,1)" x="-5.6">S</text><text transform="translate(458.08,816.95) rotate(62.91) scale(1.078,1)" x="-5.6">V</text><text transform="translate(463.73,827.44) rotate(60.43) scale(1.203,1)" x="-4.67">4</text><text transform="translate(469.61,837.31) rotate(58.04) scale(1.203,1)" x="-4.67">0</text><text transform="translate(479.77,852.45) rotate(54.24) scale(1.089,1)" x="-6.07">N</text><text transform="translate(486.86,861.87) rotate(51.79) scale(1.053,1)" x="-4.67">L</text><text transform="translate(493.68,870.19) rotate(49.55) scale(1.001,1)" x="-5.6">S</text></g>
<g font-size="16.8" fill="#1a1a1a" stroke="#1a1a1a" stroke-width="0.15"><text transform="translate(415.15,780.74) rotate(72.79) scale(1.092,1)" x="-7.93">W</text><text transform="translate(419.68,794.22) rotate(70.09) scale(0.942,1)" x="-5.6">P</text><text transform="translate(423.84,805.04) rotate(67.89) scale(1.003,1)" x="-6.07">R</text><text transform="translate(428.51,815.93) rotate(65.64) scale(0.987,1)" x="-5.6">E</text></g>
<g font-size="16.8" fill="#1a1a1a" stroke="#1a1a1a" stroke-width="0.15"><text transform="translate(430.01,662.29) rotate(96.1) scale(1.176,1)" x="-4.67">3</text><text transform="translate(429.27,670.3) rotate(94.42) scale(1.480,1)" x="-1.6">'</text><text transform="translate(428.58,683.24) rotate(91.72) scale(1.030,1)" x="-4.67">L</text><text transform="translate(428.46,693.55) rotate(89.57) scale(1.028,1)" x="-5.13">T</text><text transform="translate(428.79,705.08) rotate(87.17) scale(0.989,1)" x="-6.07">R</text><text transform="translate(429.96,720.22) rotate(84) scale(1.204,1)" x="-2.8">(</text><text transform="translate(431.11,729.63) rotate(82.02) scale(1.053,1)" x="-5.61">Δ</text><text transform="translate(433.13,741.97) rotate(79.42) scale(1.042,1)" x="-6.07">U</text><text transform="translate(435.6,753.79) rotate(76.9) scale(1.176,1)" x="-4.67">3</text><text transform="translate(437.8,762.58) rotate(75.01) scale(1.204,1)" x="-2.8">)</text></g>
<g font-size="16.8" fill="#1a1a1a" stroke="#1a1a1a" stroke-width="0.15"><text transform="translate(460.01,715.26) rotate(264.42) scale(1.043,1)" x="-5.6">A</text><text transform="translate(459.05,701.47) rotate(267.66) scale(1.189,1)" x="-7">m</text><text transform="translate(458.87,688.06) rotate(270.81) scale(1.161,1)" x="-4.67">p</text><text transform="translate(459.28,676.98) rotate(273.4) scale(0.978,1)" x="-6.07">R</text><text transform="translate(460.8,660.67) rotate(277.24) scale(1.161,1)" x="-4.67">p</text><text transform="translate(462.05,652.05) rotate(279.29) scale(1.256,1)" x="-2.8">r</text><text transform="translate(463.58,643.65) rotate(281.29) scale(1.119,1)" x="-4.67">o</text><text transform="translate(466.51,630.77) rotate(284.39) scale(1.189,1)" x="-7">m</text><text transform="translate(470.14,618.05) rotate(287.48) scale(1.119,1)" x="-4.67">o</text><text transform="translate(472.79,610.12) rotate(289.45) scale(1.435,1)" x="-2.33">t</text><text transform="translate(475.72,602.25) rotate(291.41) scale(1.125,1)" x="-4.67">e</text><text transform="translate(478.99,594.34) rotate(293.42) scale(1.256,1)" x="-2.8">r</text></g>
<g font-size="16.8" fill="#1a1a1a" stroke="#1a1a1a" stroke-width="0.15"><text transform="translate(474.91,562.6) rotate(299.44) scale(1.009,1)" x="-5.6">A</text><text transform="translate(481.79,551.1) rotate(302.37) scale(1.151,1)" x="-7">m</text><text transform="translate(489.02,540.3) rotate(305.21) scale(1.123,1)" x="-4.67">p</text><text transform="translate(495.4,531.65) rotate(307.56) scale(0.947,1)" x="-6.07">R</text></g>
<g font-size="16.8" fill="#1a1a1a" stroke="#1a1a1a" stroke-width="0.15"><text transform="translate(524.7,463.97) rotate(321.87) scale(1.069,1)" x="-4.67">o</text><text transform="translate(531.21,459.01) rotate(323.49) scale(1.199,1)" x="-2.8">r</text><text transform="translate(535.66,455.78) rotate(324.58) scale(1.215,1)" x="-1.87">i</text></g>
<g font-size="16.8" fill="#1a1a1a" stroke="#1a1a1a" stroke-width="0.15"><text transform="translate(558.14,471.65) rotate(326.56) scale(1.265,1)" x="-1.87">l</text><text transform="translate(564.37,467.66) rotate(328.17) scale(1.114,1)" x="-4.67">a</text><text transform="translate(572.66,462.72) rotate(330.27) scale(1.112,1)" x="-4.2">c</text><text transform="translate(586,455.6) rotate(333.56) scale(1.154,1)" x="-4.67">p</text><text transform="translate(593.84,451.86) rotate(335.45) scale(1.249,1)" x="-2.8">r</text><text transform="translate(601.62,448.46) rotate(337.3) scale(1.113,1)" x="-4.67">o</text><text transform="translate(613.9,443.68) rotate(340.16) scale(1.183,1)" x="-7">m</text><text transform="translate(626.4,439.52) rotate(343.03) scale(1.113,1)" x="-4.67">o</text><text transform="translate(634.41,437.22) rotate(344.84) scale(1.427,1)" x="-2.33">t</text><text transform="translate(642.52,435.16) rotate(346.66) scale(1.119,1)" x="-4.67">e</text><text transform="translate(650.84,433.32) rotate(348.51) scale(1.249,1)" x="-2.8">r</text></g>
<g font-size="16.8" fill="#1a1a1a" stroke="#1a1a1a" stroke-width="0.15"><text transform="translate(638.9,455.68) rotate(344.73) scale(1.057,1)" x="-7">M</text><text transform="translate(651.08,452.69) rotate(347.66) scale(1.167,1)" x="-4.67">1</text><text transform="translate(661.52,450.64) rotate(350.16) scale(1.167,1)" x="-4.67">3</text><text transform="translate(675.45,448.64) rotate(353.46) scale(1.260,1)" x="-2.8">r</text><text transform="translate(684,447.81) rotate(355.47) scale(1.129,1)" x="-4.67">e</text><text transform="translate(694.08,447.22) rotate(357.84) scale(1.208,1)" x="-4.2">v</text></g>
<g font-size="15.5" fill="#1a1a1a" stroke="#1a1a1a" stroke-width="0.15"><text transform="translate(981.95,529.89) rotate(59.89) scale(1.099,1)" x="-4.31">2</text><text transform="translate(986.5,538.01) rotate(61.54) scale(1.099,1)" x="-4.31">0</text><text transform="translate(990.82,546.26) rotate(63.2) scale(1.099,1)" x="-4.31">0</text><text transform="translate(994.89,554.63) rotate(64.85) scale(1.099,1)" x="-4.31">0</text></g>
<g font-size="15.5" fill="#1a1a1a" stroke="#1a1a1a" stroke-width="0.15"><text transform="translate(953.72,914.14) rotate(-48.36) scale(1.109,1)" x="-4.31">4</text><text transform="translate(960.07,906.79) rotate(-50.02) scale(1.109,1)" x="-4.31">0</text><text transform="translate(966.2,899.25) rotate(-51.68) scale(1.109,1)" x="-4.31">0</text><text transform="translate(972.12,891.54) rotate(-53.35) scale(1.109,1)" x="-4.31">0</text></g>
<g font-size="15.5" fill="#1a1a1a" stroke="#1a1a1a" stroke-width="0.15"><text transform="translate(601.3,1009.1) rotate(17.81) scale(1.134,1)" x="-4.31">6</text><text transform="translate(610.8,1012) rotate(16.1) scale(1.134,1)" x="-4.31">0</text><text transform="translate(620.39,1014.61) rotate(14.39) scale(1.134,1)" x="-4.31">0</text><text transform="translate(630.06,1016.94) rotate(12.68) scale(1.134,1)" x="-4.31">0</text></g>
<g font-size="15.5" fill="#1a1a1a" stroke="#1a1a1a" stroke-width="0.15"><text transform="translate(371.72,725.13) rotate(84.21) scale(1.118,1)" x="-4.31">8</text><text transform="translate(372.85,734.86) rotate(82.52) scale(1.118,1)" x="-4.31">0</text><text transform="translate(374.27,744.56) rotate(80.84) scale(1.118,1)" x="-4.31">0</text><text transform="translate(375.97,754.2) rotate(79.16) scale(1.118,1)" x="-4.31">0</text></g>
<g font-size="15.5" fill="#1a1a1a" stroke="#1a1a1a" stroke-width="0.15"><text transform="translate(508.88,434.55) rotate(322.89) scale(1.166,1)" x="-4.31">1</text><text transform="translate(516.85,428.71) rotate(324.64) scale(1.166,1)" x="-4.31">0</text><text transform="translate(522.94,424.49) rotate(325.96) scale(1.166,1)" x="-2.15">,</text><text transform="translate(529.12,420.41) rotate(327.28) scale(1.166,1)" x="-4.31">0</text><text transform="translate(537.52,415.2) rotate(329.04) scale(1.166,1)" x="-4.31">0</text><text transform="translate(546.07,410.25) rotate(330.79) scale(1.166,1)" x="-4.31">0</text></g>
<g font-size="18" font-weight="bold" fill="#1a1a1a"><text transform="translate(616.39,692.1) scale(1.281,1)" x="-5.5">p</text><text transform="translate(631.66,692.1) scale(1.266,1)" x="-6.5">H</text><text transform="translate(647.5,692.1) scale(1.171,1)" x="-6.5">A</text><text transform="translate(663.19,692.1) scale(1.153,1)" x="-7">G</text><text transform="translate(677.98,692.1) scale(1.119,1)" x="-6">E</text><text transform="translate(688.78,692.1) scale(1.362,1)" x="-3">-</text><text transform="translate(699.57,692.1) scale(1.220,1)" x="-5.5">T</text><text transform="translate(714.64,692.1) scale(1.194,1)" x="-7">O</text><text transform="translate(727.09,692.1) scale(1.362,1)" x="-3">-</text><text transform="translate(738.21,692.1) scale(1.281,1)" x="-5.5">d</text><text transform="translate(752.47,692.1) scale(1.111,1)" x="-6.5">C</text><text transform="translate(766.33,692.1) scale(1.326,1)" x="-5.01">a</text><text transform="translate(778.82,692.1) scale(1.170,1)" x="-5.01">s</text><text transform="translate(791.51,692.1) scale(1.367,1)" x="-5.01">9</text></g>
<g font-size="15" fill="#2a2a2a"><text transform="translate(669.45,711.1) scale(1.190,1)" x="-4.17">1</text><text transform="translate(679.38,711.1) scale(1.190,1)" x="-4.17">0</text><text transform="translate(686.82,711.1) scale(1.190,1)" x="-2.08">,</text><text transform="translate(694.26,711.1) scale(1.190,1)" x="-4.17">8</text><text transform="translate(704.19,711.1) scale(1.190,1)" x="-4.17">3</text><text transform="translate(714.12,711.1) scale(1.190,1)" x="-4.17">5</text><text transform="translate(729,711.1) scale(1.187,1)" x="-4.17">b</text><text transform="translate(738.9,711.1) scale(1.187,1)" x="-4.17">p</text></g>
<defs><filter id="bl" x="-20%" y="-20%" width="140%" height="140%"><feGaussianBlur stdDeviation="0.45"/></filter></defs>
<g filter="url(#bl)">
<path d="M1104.3,169.2 L1110.7,170 L1108.3,176.8 L1106.7,179.8 L1103.5,183.8 L1101.2,183.6 L1103,175.3 Z" fill="#86dcf2"/>
<path d="M1110,173.3 L1110.9,172.9 L1115,176.4 L1111.7,180.9 L1110,179 Z" fill="#9ae6f6"/>
<g font-size="14" fill="#ababab"><text transform="translate(1128.97,180.9) scale(0.936,1)" x="-5.06">C</text><text transform="translate(1136.49,180.9) scale(1.195,1)" x="-2.33">r</text><text transform="translate(1143.45,180.9) scale(1.071,1)" x="-3.89">e</text><text transform="translate(1151.77,180.9) scale(1.067,1)" x="-3.89">a</text><text transform="translate(1158.58,180.9) scale(1.366,1)" x="-1.94">t</text><text transform="translate(1165.41,180.9) scale(1.071,1)" x="-3.89">e</text><text transform="translate(1173.88,180.9) scale(1.105,1)" x="-3.89">d</text><text transform="translate(1188.04,180.9) scale(1.097,1)" x="-5.06">w</text><text transform="translate(1195.46,180.9) scale(1.211,1)" x="-1.56">i</text><text transform="translate(1200,180.9) scale(1.366,1)" x="-1.94">t</text><text transform="translate(1206.96,180.9) scale(1.103,1)" x="-3.89">h</text></g>
<g font-size="14" fill="#e99d95"><text transform="translate(1218.44,180.9) scale(0.877,1)" x="-4.67">S</text><text transform="translate(1226.63,180.9) scale(1.050,1)" x="-3.89">n</text><text transform="translate(1234.67,180.9) scale(1.015,1)" x="-3.89">a</text><text transform="translate(1242.71,180.9) scale(1.052,1)" x="-3.89">p</text></g>
<g font-size="14" fill="#ababab"><text transform="translate(1251.5,180.9) scale(1.010,1)" x="-5.44">G</text><text transform="translate(1261.37,180.9) scale(1.121,1)" x="-3.89">e</text><text transform="translate(1270.23,180.9) scale(1.155,1)" x="-3.89">n</text><text transform="translate(1279.09,180.9) scale(1.121,1)" x="-3.89">e</text></g>
<text x="1283.6" y="176.6" font-size="8.5" fill="#bdbdbd">®</text>
</g>
</svg></body></html>
